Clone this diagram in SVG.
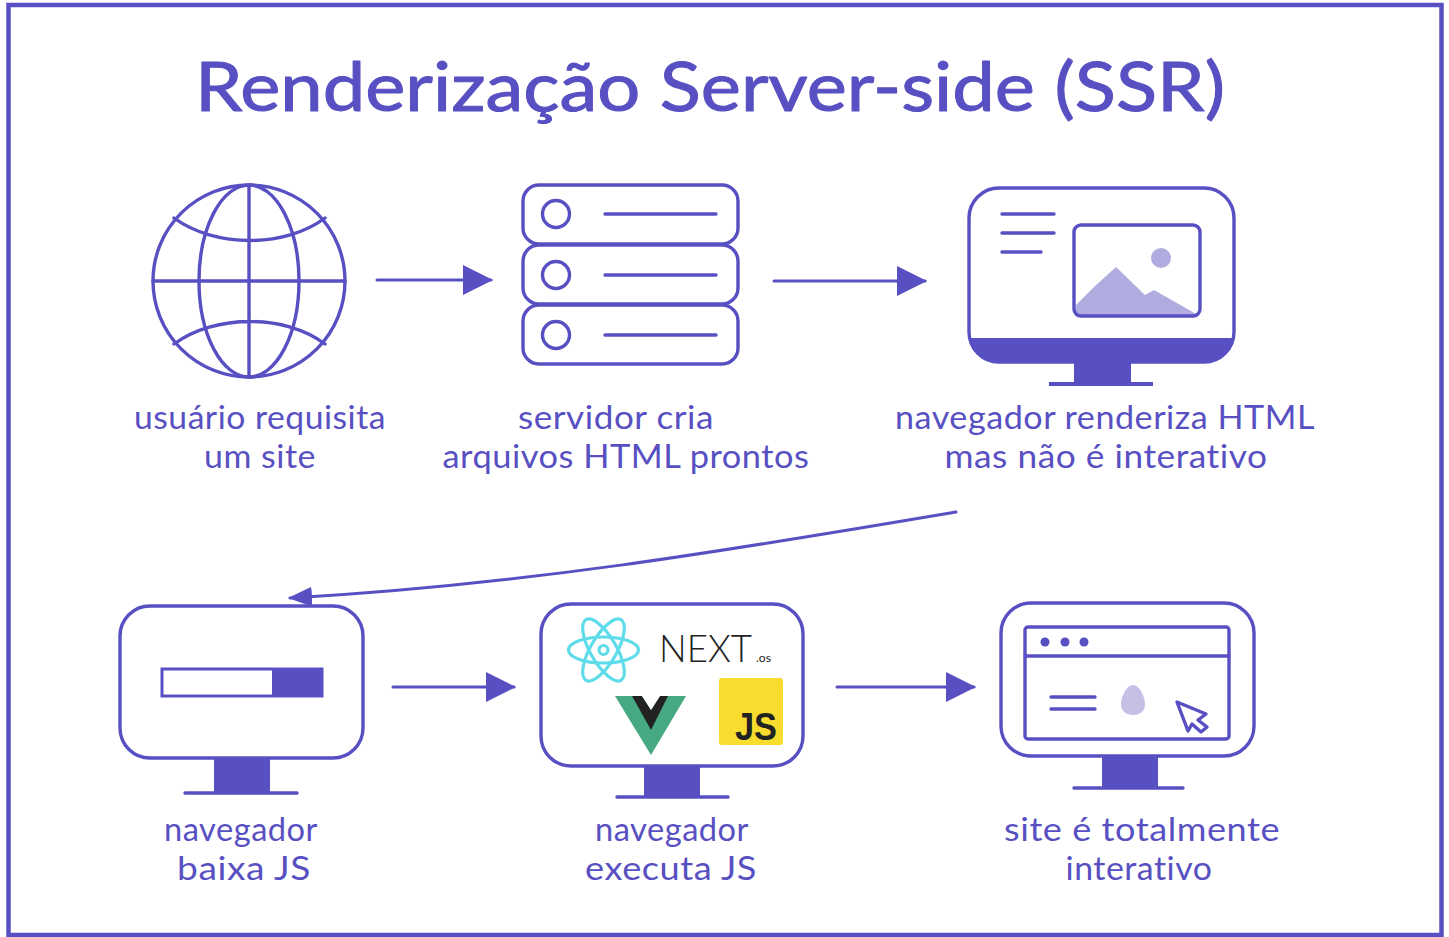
<svg xmlns="http://www.w3.org/2000/svg" width="1449" height="937" viewBox="0 0 1449 937">
<style>
text{font-family:"Lato","Liberation Sans",sans-serif;fill:#5850c2}
.t{font-size:33px;text-anchor:middle;letter-spacing:.5px}
.s{fill:none;stroke:#5850c2;stroke-width:3.4;stroke-linecap:round;stroke-linejoin:round}
.f{fill:#5850c2;stroke:none}
.l{fill:#b1acdf;stroke:none}
.c{fill:none;stroke:#5850c2;stroke-width:3;stroke-linecap:round}
.r{fill:none;stroke:#5fdcea;stroke-width:3.2}
</style>
<defs>
<marker id="a" markerUnits="userSpaceOnUse" markerWidth="32" markerHeight="32" refX="28" refY="16" orient="auto"><path d="M0 1L30 16L0 31Z" fill="#5850c2"/></marker>
<marker id="b" markerUnits="userSpaceOnUse" markerWidth="26" markerHeight="22" refX="22" refY="11" orient="auto"><path d="M0 1L24 11L0 21Z" fill="#5850c2"/></marker>
</defs>
<rect x="8.500" y="5" width="1433" height="930" fill="#fff" stroke="#5850c2" stroke-width="4.500"/>
<text id="title" x="710" y="111" style="font-size:67px;text-anchor:middle;stroke:#5850c2;stroke-width:1;stroke-linejoin:round" textLength="1030" lengthAdjust="spacingAndGlyphs">Renderização Server-side (SSR)</text>

<g id="connectors">
<path class="c" d="M377 280H491" marker-end="url(#a)"/>
<path class="c" d="M774 281H925" marker-end="url(#a)"/>
<path class="c" d="M956 512C720 552 520 585 290 598" marker-end="url(#b)"/>
<path class="c" d="M393 687H514" marker-end="url(#a)"/>
<path class="c" d="M837 687H974" marker-end="url(#a)"/>
</g>

<g id="node-usuario">
<circle class="s" cx="249" cy="281" r="96"/>
<ellipse class="s" cx="249" cy="281" rx="50" ry="96"/>
<path class="s" d="M249 185V377M153 281H345M174 218C215 248 285 248 325 218M174 344C215 314 285 314 325 344"/>
<text class="t" x="260" y="429" textLength="252" lengthAdjust="spacingAndGlyphs">usuário requisita</text>
<text class="t" x="260" y="468" textLength="112" lengthAdjust="spacingAndGlyphs">um site</text>
</g>

<g id="node-servidor">
<rect class="s" x="523" y="185" width="215" height="59" rx="16"/>
<rect class="s" x="523" y="245" width="215" height="59" rx="16"/>
<rect class="s" x="523" y="305" width="215" height="59" rx="16"/>
<circle class="s" cx="556" cy="214" r="13.500"/>
<circle class="s" cx="556" cy="275" r="13.500"/>
<circle class="s" cx="556" cy="335" r="13.500"/>
<path class="s" d="M605 214H716M605 275H716M605 335H716"/>
<text class="t" x="616" y="429" textLength="196" lengthAdjust="spacingAndGlyphs">servidor cria</text>
<text class="t" x="626" y="468" textLength="367" lengthAdjust="spacingAndGlyphs">arquivos HTML prontos</text>
</g>

<g id="node-renderiza">
<path class="f" d="M969.600 338H1233.400A30 30 0 0 1 1204 362H1131V382H1153V386H1049V382H1074V362H1000A30 30 0 0 1 969.600 338Z"/>
<rect class="s" x="969" y="188" width="265" height="174" rx="30"/>
<path class="s" d="M1002 214H1054M1002 233H1054M1002 252H1041"/>
<path class="l" d="M1076 305L1094 287L1116 267L1145 295L1154 290L1198 315H1076Z"/>
<circle class="l" cx="1161" cy="258" r="10"/>
<rect class="s" x="1074" y="225" width="126" height="91" rx="7"/>
<text class="t" x="1105" y="429" textLength="420" lengthAdjust="spacingAndGlyphs">navegador renderiza HTML</text>
<text class="t" x="1106" y="468" textLength="323" lengthAdjust="spacingAndGlyphs">mas não é interativo</text>
</g>

<g id="node-baixa">
<rect class="s" x="120" y="606" width="243" height="152" rx="30"/>
<rect class="f" x="214" y="758" width="56" height="35"/>
<path class="s" d="M185 793H297"/>
<rect x="162" y="669" width="160" height="27" fill="none" stroke="#5850c2" stroke-width="3"/>
<rect class="f" x="272" y="669" width="50" height="27"/>
<text class="t" x="241" y="841" textLength="154" lengthAdjust="spacingAndGlyphs">navegador</text>
<text class="t" x="244" y="880" textLength="134" lengthAdjust="spacingAndGlyphs">baixa JS</text>
</g>

<g id="node-executa">
<rect class="s" x="541" y="604" width="262" height="162" rx="30"/>
<rect class="f" x="644" y="766" width="56" height="32"/>
<path class="s" d="M617 797H728"/>
<ellipse class="r" cx="603.500" cy="650" rx="35" ry="13"/>
<ellipse class="r" cx="603.500" cy="650" rx="35" ry="13" transform="rotate(60 603.500 650)"/>
<ellipse class="r" cx="603.500" cy="650" rx="35" ry="13" transform="rotate(120 603.500 650)"/>
<circle class="r" cx="603.500" cy="650" r="4.500"/>
<text x="659" y="662" style="font-size:37px;fill:#222;font-weight:300" textLength="93" lengthAdjust="spacingAndGlyphs">NEXT</text>
<text x="756" y="662" style="font-size:12px;fill:#222" textLength="15" lengthAdjust="spacingAndGlyphs">.os</text>
<path fill="#46a982" d="M615 696H686L651 755Z"/>
<path fill="#222" d="M632 696H642L651 710L660 696H668L651 730Z"/>
<path fill="#fff" d="M642 696H660L651 710Z"/>
<rect x="719" y="678" width="64" height="67" rx="3" fill="#f8dc2e"/>
<text x="735" y="740" style="font-size:39px;font-weight:900;fill:#222;font-family:'Liberation Sans',sans-serif" textLength="42" lengthAdjust="spacingAndGlyphs">JS</text>
<text class="t" x="672" y="841" textLength="154" lengthAdjust="spacingAndGlyphs">navegador</text>
<text class="t" x="671" y="880" textLength="172" lengthAdjust="spacingAndGlyphs">executa JS</text>
</g>

<g id="node-interativo">
<rect class="s" x="1001" y="603" width="253" height="153" rx="30"/>
<rect class="f" x="1102" y="756" width="56" height="32"/>
<path class="s" d="M1074 788H1183"/>
<rect class="s" x="1025" y="627" width="204" height="112" rx="3"/>
<path class="s" d="M1025 656H1229M1051 697H1095M1051 709H1095"/>
<circle class="f" cx="1045" cy="642" r="4.500"/>
<circle class="f" cx="1065" cy="642" r="4.500"/>
<circle class="f" cx="1084" cy="642" r="4.500"/>
<path fill="#c4c0e6" d="M1133 685C1140 685 1145 698 1145 704C1145 712 1139 715 1133 715C1126 715 1121 711 1121 704C1121 696 1127 685 1133 685Z"/>
<path class="s" d="M1177 702L1206 714L1198 720L1207 727L1201 732L1192 724L1188 731Z"/>
<text class="t" x="1142" y="841" textLength="276" lengthAdjust="spacingAndGlyphs">site é totalmente</text>
<text class="t" x="1139" y="880" textLength="147" lengthAdjust="spacingAndGlyphs">interativo</text>
</g>
</svg>
